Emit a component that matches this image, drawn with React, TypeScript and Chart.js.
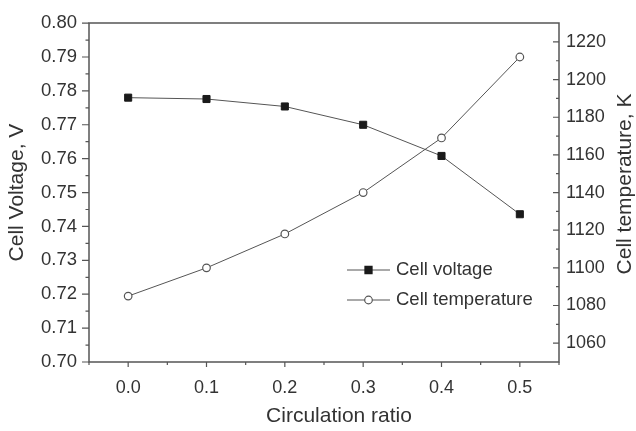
import React, { useEffect, useRef } from "react";
import { Chart, registerables } from "chart.js";

Chart.register(...registerables);

const circulationRatio = [0.0, 0.1, 0.2, 0.3, 0.4, 0.5];
const cellVoltage = [0.778, 0.7776, 0.7754, 0.770, 0.7608, 0.7436];
const cellTemperature = [1085, 1100, 1118, 1140, 1169, 1212];

const xTicks = [0.0, 0.1, 0.2, 0.3, 0.4, 0.5];
const xMinorTicks = [-0.05, 0.05, 0.15, 0.25, 0.35, 0.45, 0.55];
const voltageTicks = [0.7, 0.71, 0.72, 0.73, 0.74, 0.75, 0.76, 0.77, 0.78, 0.79, 0.8];
const voltageMinorTicks = [0.705, 0.715, 0.725, 0.735, 0.745, 0.755, 0.765, 0.775, 0.785, 0.795];
const tempTicks = [1060, 1080, 1100, 1120, 1140, 1160, 1180, 1200, 1220];
const tempMinorTicks = [1070, 1090, 1110, 1130, 1150, 1170, 1190, 1210];

const FONT = "'Liberation Sans', Arial, Helvetica, sans-serif";
const TEXT = "#333333";
const AXIS = "#555555";

const framePlugin = {
  id: "frame",
  afterDraw(chart: any) {
    const ctx = chart.ctx;
    const { left, right, top, bottom } = chart.chartArea;
    const x = chart.scales.x;
    const y = chart.scales.y;
    const y1 = chart.scales.y1;
    ctx.save();
    ctx.strokeStyle = AXIS;
    ctx.lineWidth = 1.5;
    ctx.beginPath();
    ctx.moveTo(left, top);
    ctx.lineTo(right, top);
    ctx.lineTo(right, bottom);
    ctx.lineTo(left, bottom);
    ctx.closePath();
    ctx.stroke();
    ctx.lineWidth = 1.2;
    ctx.beginPath();
    voltageTicks.forEach((v) => {
      const p = y.getPixelForValue(v);
      ctx.moveTo(left - 7, p);
      ctx.lineTo(left, p);
    });
    voltageMinorTicks.forEach((v) => {
      const p = y.getPixelForValue(v);
      ctx.moveTo(left - 3.5, p);
      ctx.lineTo(left, p);
    });
    tempTicks.forEach((v) => {
      const p = y1.getPixelForValue(v);
      ctx.moveTo(right - 6, p);
      ctx.lineTo(right, p);
    });
    tempMinorTicks.forEach((v) => {
      const p = y1.getPixelForValue(v);
      ctx.moveTo(right - 3, p);
      ctx.lineTo(right, p);
    });
    xTicks.forEach((v) => {
      const p = x.getPixelForValue(v);
      ctx.moveTo(p, bottom);
      ctx.lineTo(p, bottom + 5);
    });
    xMinorTicks.forEach((v) => {
      const p = x.getPixelForValue(v);
      ctx.moveTo(p, bottom);
      ctx.lineTo(p, bottom + 3);
    });
    ctx.stroke();

    // axis titles
    ctx.fillStyle = TEXT;
    ctx.font = `21px ${FONT}`;
    ctx.textAlign = "center";
    ctx.textBaseline = "middle";
    ctx.fillText("Circulation ratio", 339, 416);
    ctx.save();
    ctx.translate(17, (top + bottom) / 2);
    ctx.rotate(-Math.PI / 2);
    ctx.fillText("Cell Voltage, V", 0, 0);
    ctx.restore();
    ctx.save();
    ctx.translate(625, 184);
    ctx.rotate(-Math.PI / 2);
    ctx.fillText("Cell temperature, K", 0, 0);
    ctx.restore();

    // legend
    const legendX = 347;
    const rows = [270, 300];
    chart.data.datasets.forEach((ds: any, i: number) => {
      const ly = rows[i];
      ctx.strokeStyle = ds.borderColor;
      ctx.lineWidth = 1;
      ctx.beginPath();
      ctx.moveTo(legendX, ly);
      ctx.lineTo(legendX + 43, ly);
      ctx.stroke();
      ctx.fillStyle = ds.pointBackgroundColor;
      ctx.strokeStyle = ds.pointBorderColor;
      ctx.lineWidth = 1.2;
      ctx.beginPath();
      if (ds.pointStyle === "rect") {
        const s = ds.pointRadius * Math.SQRT1_2;
        ctx.rect(legendX + 21.5 - s, ly - s, 2 * s, 2 * s);
      } else {
        ctx.arc(legendX + 21.5, ly, ds.pointRadius, 0, Math.PI * 2);
      }
      ctx.fill();
      ctx.stroke();
      ctx.fillStyle = TEXT;
      ctx.font = `18.5px ${FONT}`;
      ctx.textAlign = "left";
      ctx.textBaseline = "middle";
      ctx.fillText(ds.label, legendX + 49, ly);
    });
    ctx.restore();
  },
};

export default function App() {
  const ref = useRef<HTMLCanvasElement | null>(null);
  useEffect(() => {
    if (!ref.current) return;
    const chart = new Chart(ref.current, {
      type: "line",
      data: {
        datasets: [
          {
            label: "Cell voltage",
            data: circulationRatio.map((x, i) => ({ x, y: cellVoltage[i] })),
            yAxisID: "y",
            borderColor: "#555555",
            borderWidth: 1,
            pointStyle: "rect",
            pointRadius: 5,
            pointBackgroundColor: "#1a1a1a",
            pointBorderColor: "#1a1a1a",
            pointBorderWidth: 1,
            tension: 0,
          },
          {
            label: "Cell temperature",
            data: circulationRatio.map((x, i) => ({ x, y: cellTemperature[i] })),
            yAxisID: "y1",
            borderColor: "#555555",
            borderWidth: 1,
            pointStyle: "circle",
            pointRadius: 3.8,
            pointBackgroundColor: "#ffffff",
            pointBorderColor: "#555555",
            pointBorderWidth: 1.2,
            tension: 0,
          },
        ],
      },
      options: {
        animation: false,
        responsive: false,
        layout: { padding: { top: 13, left: 0, right: 0, bottom: 0 } },
        plugins: { legend: { display: false }, tooltip: { enabled: false }, title: { display: false } },
        scales: {
          x: {
            type: "linear",
            min: -0.05,
            max: 0.55,
            grid: { display: false, drawTicks: false },
            border: { display: false },
            afterBuildTicks: (s: any) => {
              s.ticks = xTicks.map((v) => ({ value: v }));
            },
            afterFit: (s: any) => {
              s.height = 69;
            },
            ticks: {
              color: TEXT,
              font: { family: FONT, size: 18 },
              padding: 15,
              maxRotation: 0,
              callback: (v: any) => Number(v).toFixed(1),
            },
          },
          y: {
            type: "linear",
            position: "left",
            min: 0.7,
            max: 0.8,
            grid: { display: false, drawTicks: false },
            border: { display: false },
            afterBuildTicks: (s: any) => {
              s.ticks = voltageTicks.map((v) => ({ value: v }));
            },
            afterFit: (s: any) => {
              s.width = 89;
            },
            ticks: {
              color: TEXT,
              font: { family: FONT, size: 18.5 },
              padding: 12,
              callback: (v: any) => Number(v).toFixed(2),
            },
          },
          y1: {
            type: "linear",
            position: "right",
            min: 1050,
            max: 1230,
            grid: { display: false, drawTicks: false },
            border: { display: false },
            afterBuildTicks: (s: any) => {
              s.ticks = tempTicks.map((v) => ({ value: v }));
            },
            afterFit: (s: any) => {
              s.width = 77;
            },
            ticks: {
              color: TEXT,
              font: { family: FONT, size: 18 },
              padding: 7,
              callback: (v: any) => String(v),
            },
          },
        },
      },
      plugins: [framePlugin],
    } as any);
    return () => chart.destroy();
  }, []);
  return (
    <div style={{ position: "absolute", left: 0, top: 0, width: 636, height: 431, background: "#fff" }}>
      <canvas ref={ref} width={636} height={431} />
    </div>
  );
}
